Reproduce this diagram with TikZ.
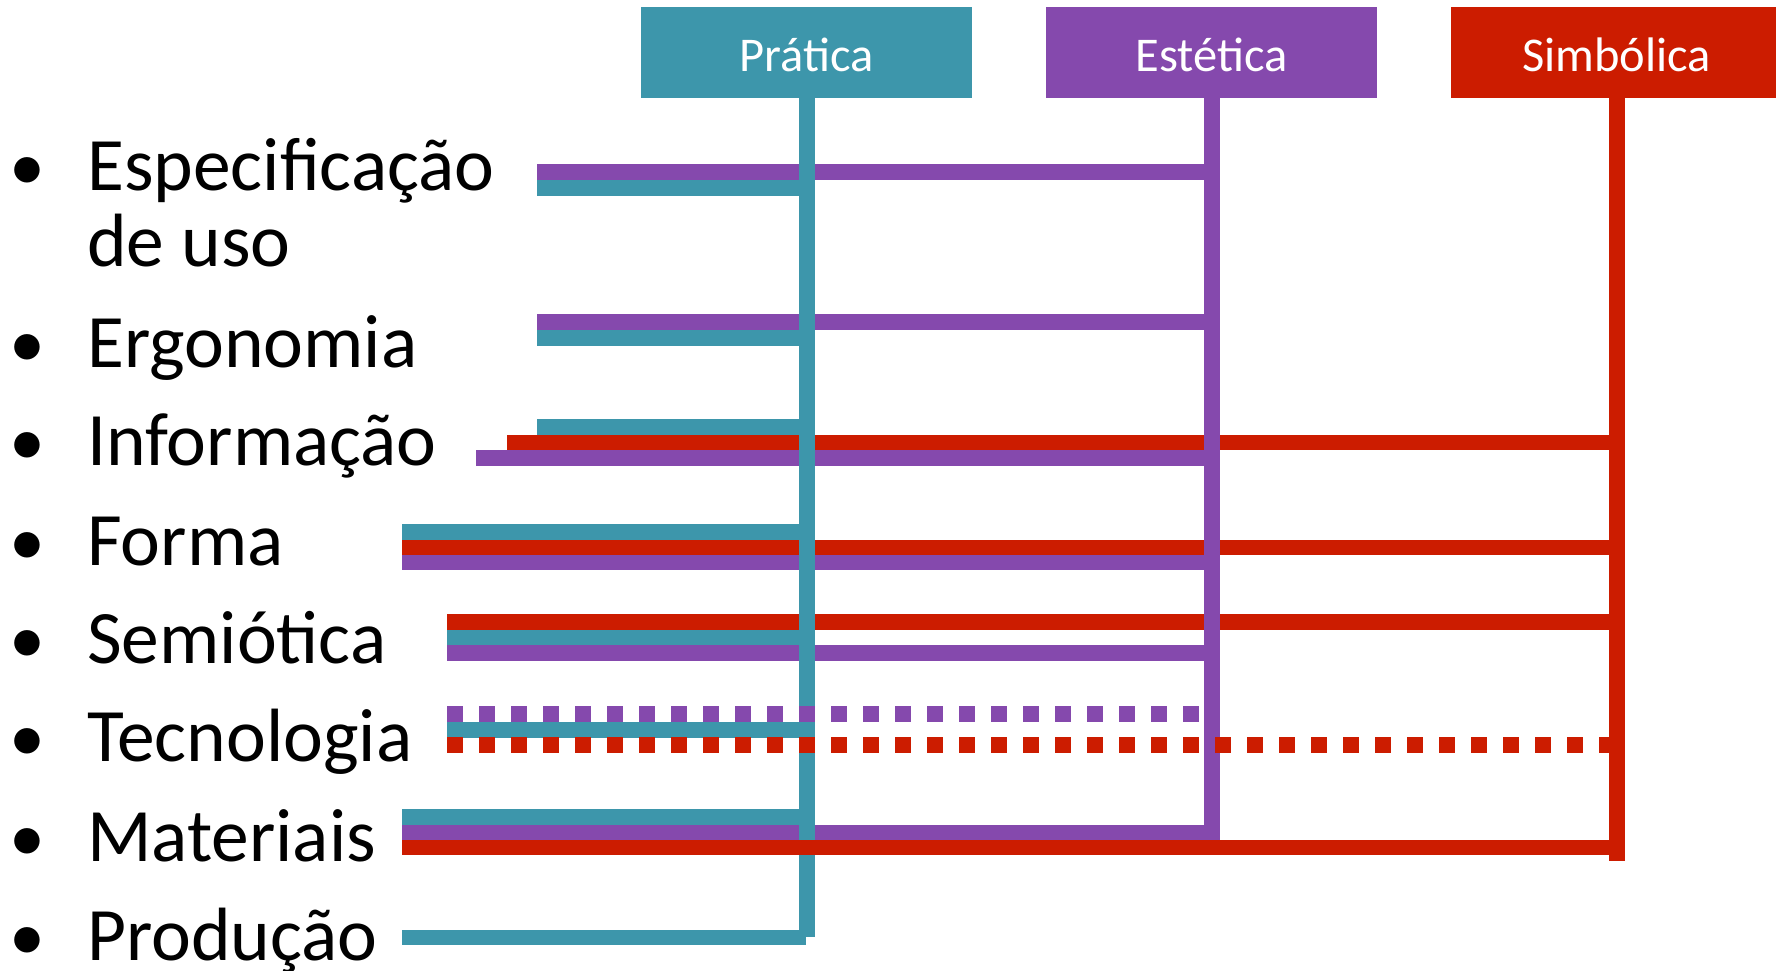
\documentclass[tikz,border=0pt]{standalone}
\usepackage{fontspec}
\setmainfont{Carlito}
\definecolor{cT}{HTML}{3D96AB}
\definecolor{cP}{HTML}{8549AD}
\definecolor{cR}{HTML}{CC1C00}
\begin{document}
\begin{tikzpicture}[x=1pt,y=-1pt,
  hdr/.style={draw=none,minimum width=331pt,minimum height=91pt,inner sep=0pt,
    text=white,text height=39pt,text depth=0pt,font=\fontsize{48.5}{48.5}\selectfont},
  lbl/.style={anchor=base west,inner sep=0pt,font=\fontsize{75.5}{75.5}\selectfont},
  bul/.style={anchor=base,inner sep=0pt,font=\fontsize{72}{72}\selectfont},
  bar/.style={line width=15.6pt},
  vbar/.style={line width=16pt},
  dots/.style={line width=15.6pt,dash pattern=on 16pt off 16pt},
]
\useasboundingbox (0,0) rectangle (1776,970);

% header boxes
\node[hdr,fill=cT] (pratica)   at (806.7,52.2)  {Prática};
\node[hdr,fill=cP] (estetica)  at (1211.5,52.2) {Estética};
\node[hdr,fill=cR] (simbolica) at (1616.8,52.2) {Simbólica};

% labels
\node[lbl] (t1)  at (87,190)   {Especificação};
\node[lbl] (t1b) at (87,266.7) {de uso};
\node[lbl] (t2)  at (87,367.3) {Ergonomia};
\node[lbl] (t3)  at (87,465)   {Informação};
\node[lbl] (t4)  at (87,565)   {Forma};
\node[lbl] (t5)  at (87,663.3) {Semiótica};
\node[lbl] (t6)  at (87,761.7) {Tecnologia};
\node[lbl] (t7)  at (87,861)   {Materiais};
\node[lbl] (t8)  at (87,960)   {Produção};
\foreach \n/\y in {1/190,2/367.3,3/465,4/565,5/663.3,6/761.7,7/861,8/960}
  \node[bul] (b\n) at (27.7,\y) {•};

% left ends of the bars
\coordinate (e1P) at (537,172.2);
\coordinate (e1T) at (537,187.7);
\coordinate (e2P) at (537,322.2);
\coordinate (e2T) at (537,337.7);
\coordinate (e3T) at (537,427.2);
\coordinate (e3R) at (507,442.5);
\coordinate (e3P) at (476,457.7);
\coordinate (e4T) at (402,532.2);
\coordinate (e4R) at (402,547.3);
\coordinate (e4P) at (402,562.6);
\coordinate (e5R) at (447,622.2);
\coordinate (e5T) at (447,637.5);
\coordinate (e5P) at (447,652.8);
\coordinate (e6P) at (447,714);
\coordinate (e6T) at (447,729.7);
\coordinate (e6R) at (447,745);
\coordinate (e7T) at (402,817.2);
\coordinate (e7P) at (402,832.6);
\coordinate (e7R) at (402,847.6);
\coordinate (e8T) at (402,937.5);
\coordinate (end6P) at (1199,714);
\coordinate (end6T) at (815,729.7);
\coordinate (end8T) at (806,937.5);

% bottom ends of the verticals
\coordinate (pEnd) at (806.7,937.3);
\coordinate (eEnd) at (1211.5,839.6);
\coordinate (sEnd) at (1616.8,861);

% horizontal bars under the verticals
\draw[bar,cP] (e1P) -- (e1P -| estetica.south);
\draw[bar,cT] (e1T) -- (e1T -| pratica.south);
\draw[bar,cP] (e2P) -- (e2P -| estetica.south);
\draw[bar,cT] (e2T) -- (e2T -| pratica.south);
\draw[bar,cT] (e3T) -- (e3T -| pratica.south);
\draw[bar,cR] (e3R) -- (e3R -| simbolica.south);
\draw[bar,cP] (e3P) -- (e3P -| estetica.south);
\draw[bar,cT] (e4T) -- (e4T -| pratica.south);
\draw[bar,cR] (e4R) -- (e4R -| simbolica.south);
\draw[bar,cP] (e4P) -- (e4P -| estetica.south);
\draw[bar,cR] (e5R) -- (e5R -| simbolica.south);
\draw[bar,cT] (e5T) -- (e5T -| pratica.south);
\draw[bar,cP] (e5P) -- (e5P -| estetica.south);
\draw[bar,cT] (e6T) -- (end6T);
\draw[bar,cT] (e7T) -- (e7T -| pratica.south);
\draw[bar,cP] (e7P) -- ([xshift=8pt]e7P -| estetica.south);
\draw[bar,cT] (e8T) -- (end8T);

% verticals
\draw[vbar,cT] (pratica.south) -- (pEnd);
\draw[vbar,cP] (estetica.south) -- (eEnd);
\draw[vbar,cR] (simbolica.south) -- (sEnd);

% bars drawn over the verticals
\draw[dots,cP] (e6P) -- (end6P);
\draw[dots,cR] (e6R) -- (e6R -| simbolica.south);
\draw[bar,cR] (e7R) -- (e7R -| simbolica.south);
\end{tikzpicture}
\end{document}
